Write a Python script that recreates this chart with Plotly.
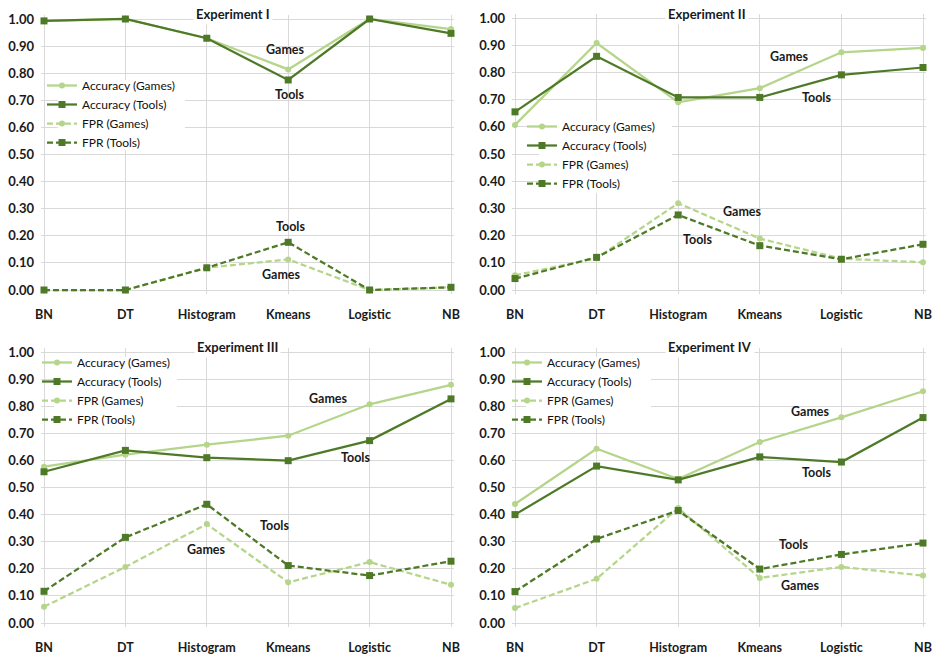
import plotly.graph_objects as go

W, H = 934, 655

categories = ["BN", "DT", "Histogram", "Kmeans", "Logistic", "NB"]
y_ticks = [0.0, 0.1, 0.2, 0.3, 0.4, 0.5, 0.6, 0.7, 0.8, 0.9, 1.0]

experiment_titles = ["Experiment I", "Experiment II", "Experiment III", "Experiment IV"]

# Experiment I
acc_games_1 = [0.993, 1.000, 0.929, 0.814, 1.000, 0.963]
acc_tools_1 = [0.993, 1.000, 0.929, 0.775, 1.000, 0.947]
fpr_games_1 = [0.000, 0.000, 0.082, 0.113, 0.000, 0.010]
fpr_tools_1 = [0.000, 0.000, 0.082, 0.176, 0.000, 0.010]

# Experiment II
acc_games_2 = [0.607, 0.908, 0.690, 0.742, 0.874, 0.890]
acc_tools_2 = [0.655, 0.859, 0.708, 0.708, 0.791, 0.818]
fpr_games_2 = [0.054, 0.117, 0.319, 0.189, 0.115, 0.102]
fpr_tools_2 = [0.042, 0.120, 0.276, 0.163, 0.113, 0.168]

# Experiment III
acc_games_3 = [0.577, 0.621, 0.658, 0.691, 0.807, 0.879]
acc_tools_3 = [0.558, 0.637, 0.610, 0.599, 0.673, 0.827]
fpr_games_3 = [0.060, 0.207, 0.365, 0.150, 0.225, 0.141]
fpr_tools_3 = [0.117, 0.316, 0.438, 0.212, 0.175, 0.228]

# Experiment IV
acc_games_4 = [0.439, 0.643, 0.531, 0.668, 0.759, 0.855]
acc_tools_4 = [0.400, 0.579, 0.528, 0.613, 0.594, 0.758]
fpr_games_4 = [0.055, 0.163, 0.424, 0.166, 0.207, 0.175]
fpr_tools_4 = [0.116, 0.310, 0.415, 0.199, 0.253, 0.295]

series_names = ["Accuracy (Games)", "Accuracy (Tools)", "FPR (Games)", "FPR (Tools)"]
panels = [
    [acc_games_1, acc_tools_1, fpr_games_1, fpr_tools_1],
    [acc_games_2, acc_tools_2, fpr_games_2, fpr_tools_2],
    [acc_games_3, acc_tools_3, fpr_games_3, fpr_tools_3],
    [acc_games_4, acc_tools_4, fpr_games_4, fpr_tools_4],
]

# In-plot labels: (text, category position, value)
panel_labels = [
    [("Games", 2.97, 0.886), ("Tools", 3.01, 0.723), ("Tools", 3.03, 0.236), ("Games", 2.92, 0.059)],
    [("Games", 3.37, 0.860), ("Tools", 3.69, 0.706), ("Games", 2.79, 0.290), ("Tools", 2.24, 0.184)],
    [("Games", 3.50, 0.827), ("Tools", 3.83, 0.609), ("Tools", 2.83, 0.358), ("Games", 2.00, 0.273)],
    [("Games", 3.62, 0.782), ("Tools", 3.70, 0.554), ("Tools", 3.41, 0.288), ("Games", 3.50, 0.137)],
]

LIGHT = "#b4d58a"
DARK = "#4e7a27"
GRID = "#d9d9d9"
FONT = "Lato"
TEXT = "#1a1a1a"

# Plot-area boxes in pixels (value 0..1 and BN..NB): (left, right, top, bottom)
boxes = [
    (44, 451, 19, 290),
    (515, 923, 18, 290),
    (44, 451, 352, 623),
    (515, 923, 352, 623),
]
PAD_X, PAD_Y = 3, 4
title_pos = [(233, 14), (707, 14), (238, 347), (710, 347)]
legend_pos = [(42, 71), (522, 112), (37, 348), (507, 348)]
# White backing boxes behind the legends: (x0, y0, x1, y1) in pixels
legend_boxes = [
    (58, 80, 185, 150),
    (539, 121, 672, 193),
    (54, 357, 177, 428),
    (526, 357, 651, 428),
]

styles = [
    dict(color=LIGHT, symbol="circle", size=6, dash="solid"),
    dict(color=DARK, symbol="square", size=7, dash="solid"),
    dict(color=LIGHT, symbol="circle", size=6, dash="6px,3px"),
    dict(color=DARK, symbol="square", size=7, dash="6px,3px"),
]

fig = go.Figure()
layout = dict(
    width=W, height=H,
    margin=dict(l=0, r=0, t=0, b=0, autoexpand=False),
    paper_bgcolor="white", plot_bgcolor="white",
    font=dict(family=FONT, color=TEXT),
    annotations=[], shapes=[],
)

for p, (values, box) in enumerate(zip(panels, boxes)):
    n = p + 1
    suffix = "" if n == 1 else str(n)
    legend_id = "legend" if n == 1 else f"legend{n}"
    for name, vals, st in zip(series_names, values, styles):
        fig.add_trace(go.Scatter(
            x=categories, y=vals, name=name, mode="lines+markers",
            line=dict(color=st["color"], width=2.25, dash=st["dash"]),
            marker=dict(color=st["color"], symbol=st["symbol"], size=st["size"]),
            cliponaxis=False,
            xaxis="x" + suffix, yaxis="y" + suffix,
            legend=legend_id,
        ))
    left, right, top, bottom = box
    xpad = PAD_X * 5 / (right - left)
    ypad = PAD_Y * 1 / (bottom - top)
    layout["xaxis" + suffix] = dict(
        domain=[(left - PAD_X) / W, (right + PAD_X) / W], anchor="y" + suffix,
        type="category", categoryorder="array", categoryarray=categories,
        range=[-xpad, 5 + xpad], showgrid=True, gridcolor=GRID, gridwidth=1,
        ticks="", ticklabelstandoff=11,
        tickfont=dict(family=FONT, size=12.5, color=TEXT, weight="bold"),
        showline=False, zeroline=False, fixedrange=True, automargin=False,
    )
    layout["yaxis" + suffix] = dict(
        domain=[(H - bottom - PAD_Y) / H, (H - top + PAD_Y) / H], anchor="x" + suffix,
        range=[-ypad, 1 + ypad], tickvals=y_ticks, tickformat=".2f",
        showgrid=True, gridcolor=GRID, gridwidth=1,
        ticks="", ticklabelstandoff=6,
        tickfont=dict(family=FONT, size=13, color=TEXT, weight="bold"),
        showline=False, zeroline=False, fixedrange=True, automargin=False,
    )
    lx, ly = legend_pos[p]
    layout[legend_id] = dict(
        x=lx / W, y=(H - ly) / H, xanchor="left", yanchor="top",
        xref="paper", yref="paper",
        bgcolor="rgba(0,0,0,0)", borderwidth=0,
        font=dict(family=FONT, size=12, color="#111111"),
        itemwidth=30, tracegroupgap=0,
    )
    bx0, by0, bx1, by1 = legend_boxes[p]
    layout["shapes"].append(dict(
        type="rect", xref="paper", yref="paper", layer="above",
        x0=bx0 / W, x1=bx1 / W, y0=(H - by1) / H, y1=(H - by0) / H,
        fillcolor="white", line=dict(width=0),
    ))
    tx, ty = title_pos[p]
    layout["annotations"].append(dict(
        text="<b>" + experiment_titles[p] + "</b>",
        x=tx / W, y=(H - ty) / H, xref="paper", yref="paper",
        xanchor="center", yanchor="middle",
        showarrow=False, bgcolor="white", borderpad=2,
        font=dict(family=FONT, size=13, color=TEXT),
    ))
    for text, xp, yv in panel_labels[p]:
        layout["annotations"].append(dict(
            text="<b>" + text + "</b>", x=xp, y=yv,
            xref="x" + suffix, yref="y" + suffix, showarrow=False,
            xanchor="center", yanchor="middle",
            font=dict(family=FONT, size=12.5, color=TEXT),
        ))

fig.update_layout(**layout)
fig.write_html("out.html")
